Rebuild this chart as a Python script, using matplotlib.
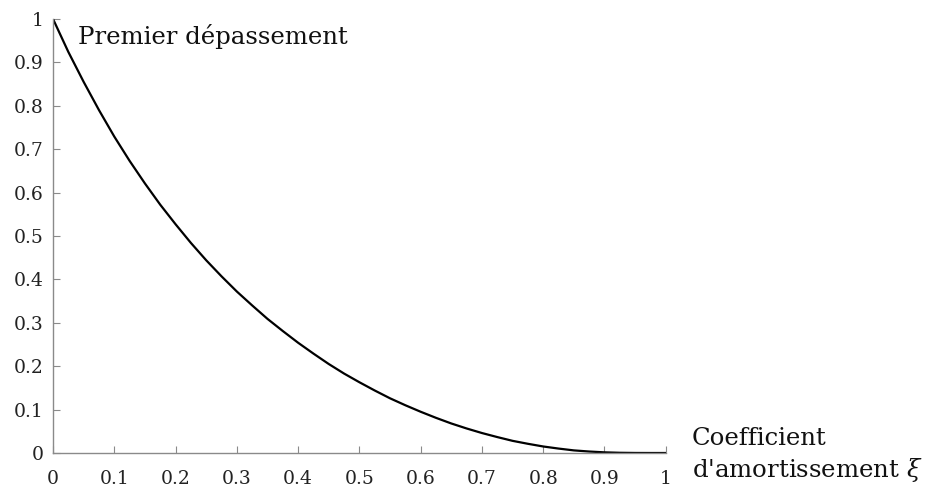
import matplotlib
matplotlib.use("Agg")
import matplotlib.pyplot as plt

# damping coefficient values and first overshoot
xi = [0.0, 0.025, 0.05, 0.075, 0.1, 0.125, 0.15, 0.175, 0.2, 0.225, 0.25, 0.275,
      0.3, 0.325, 0.35, 0.375, 0.4, 0.425, 0.45, 0.475, 0.5, 0.525, 0.55, 0.575,
      0.6, 0.625, 0.65, 0.675, 0.7, 0.725, 0.75, 0.775, 0.8, 0.825, 0.85, 0.875,
      0.9, 0.925, 0.95, 0.975, 1.0]
overshoot = [1.0, 0.924, 0.855, 0.790, 0.729, 0.673, 0.621, 0.572, 0.527, 0.484,
             0.444, 0.407, 0.372, 0.340, 0.309, 0.281, 0.254, 0.229, 0.205, 0.183,
             0.163, 0.144, 0.126, 0.110, 0.095, 0.081, 0.068, 0.0565, 0.046, 0.0367,
             0.028, 0.0212, 0.015, 0.0102, 0.006, 0.0034, 0.0015, 0.0005, 0.0001,
             0.0, 0.0]
x_ticks = [0, 0.1, 0.2, 0.3, 0.4, 0.5, 0.6, 0.7, 0.8, 0.9, 1]
x_tick_labels = ["0", "0.1", "0.2", "0.3", "0.4", "0.5", "0.6", "0.7", "0.8", "0.9", "1"]
y_ticks = [0, 0.1, 0.2, 0.3, 0.4, 0.5, 0.6, 0.7, 0.8, 0.9, 1]
y_tick_labels = ["0", "0.1", "0.2", "0.3", "0.4", "0.5", "0.6", "0.7", "0.8", "0.9", "1"]

plt.rcParams['font.family'] = ['DejaVu Serif']
plt.rcParams['mathtext.fontset'] = 'dejavuserif'

fig = plt.figure(figsize=(9.27, 4.91), dpi=100)
ax = fig.add_axes([0.0572, 0.0774, 0.661, 0.884])
ax.plot(xi, overshoot, color='black', lw=1.6)
ax.set_xlim(0, 1)
ax.set_ylim(0, 1)
ax.set_xticks(x_ticks)
ax.set_xticklabels(x_tick_labels)
ax.set_yticks(y_ticks)
ax.set_yticklabels(y_tick_labels)
for s in ['top', 'right']:
    ax.spines[s].set_visible(False)
for s in ['left', 'bottom']:
    ax.spines[s].set_color('#8a8a8a')
    ax.spines[s].set_linewidth(1.0)
ax.tick_params(direction='in', length=5, color='#8a8a8a', labelsize=13.5,
               labelcolor='#222222')
ax.tick_params(axis='x', pad=12)
ax.tick_params(axis='y', pad=7)
ax.text(0.04, 0.96, "Premier dépassement", transform=ax.transAxes, fontsize=17.6,
        ha='left', va='center', color='#111111')
ax.text(1.042, -0.005, "Coefficient\nd'amortissement $\\xi$", transform=ax.transAxes,
        fontsize=17.6, ha='left', va='center', color='#111111', linespacing=1.3)
fig.savefig("out.png", dpi=100)
